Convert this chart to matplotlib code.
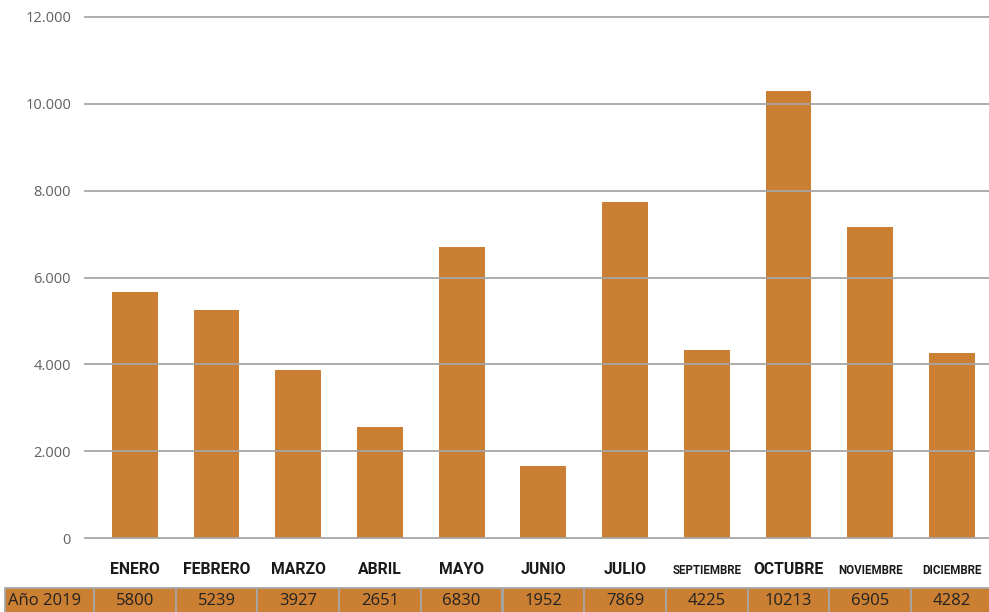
import matplotlib.pyplot as plt
from matplotlib.transforms import blended_transform_factory
from matplotlib.patches import Rectangle

# meses y valores
meses = ["ENERO", "FEBRERO", "MARZO", "ABRIL", "MAYO", "JUNIO", "JULIO",
         "SEPTIEMBRE", "OCTUBRE", "NOVIEMBRE", "DICIEMBRE"]
# altura de las barras
barras = [5665, 5250, 3870, 2560, 6700, 1660, 7740, 4330, 10295, 7165, 4260]
# valores de la tabla
tabla = [5800, 5239, 3927, 2651, 6830, 1952, 7869, 4225, 10213, 6905, 4282]
fila = "Año 2019"
yticks = [0, 2000, 4000, 6000, 8000, 10000, 12000]

color = "#CB7F32"
gris = "#A6A6A6"

fig = plt.figure(figsize=(9.89, 6.12), dpi=100)
# eje: x 85..989 px, y 538..17 px
ax = fig.add_axes([85 / 989, (612 - 538) / 612, (989 - 85) / 989, (538 - 17) / 612])

x = list(range(len(meses)))
ax.bar(x, barras, width=0.56, color=color, zorder=1)

ax.set_ylim(0, 12000)
ax.set_xlim(-0.5 - 9 / 81.7, -0.5 + (989 - 94) / 81.7)
for v in yticks:
    ax.axhline(v, color=gris, lw=1.3, zorder=2, clip_on=False)
for s in ax.spines.values():
    s.set_visible(False)
ax.set_yticks(yticks)
ax.set_yticklabels([f"{v:,}".replace(",", ".") for v in yticks],
                   fontsize=10.5, color="#606060", family="Open Sans")
ax.tick_params(axis="y", length=0, pad=10)
ax.set_xticks([])

trans = blended_transform_factory(ax.transData, ax.transAxes)
lab_y = (538 - 570) / 521
for i, m in enumerate(meses):
    size = 8.3 if len(m) > 8 else 11.3
    ax.text(i, lab_y, m, transform=trans, ha="center", va="center",
            fontsize=size, fontweight="bold", family="Roboto", color="#1a1a1a")

# tabla de datos
top = (538 - 588) / 521
bot = (538 - 616) / 521
txt_y = (538 - 601) / 521
for i, v in enumerate(tabla):
    ax.add_patch(Rectangle((i - 0.5, bot), 1, top - bot, transform=trans,
                           facecolor=color, edgecolor=gris, lw=1.3, clip_on=False))
    ax.text(i, txt_y, str(v), transform=trans, ha="center", va="center",
            fontsize=12, family="Open Sans", color="#222222")
x0 = -0.5 - 89 / 81.7
ax.add_patch(Rectangle((x0, bot), 89 / 81.7, top - bot, transform=trans,
                       facecolor=color, edgecolor=gris, lw=1.3, clip_on=False))
ax.text(x0 + 3 / 81.7, txt_y, fila, transform=trans, ha="left", va="center",
        fontsize=12, family="Open Sans", color="#222222")

fig.savefig("out.png", dpi=100)
